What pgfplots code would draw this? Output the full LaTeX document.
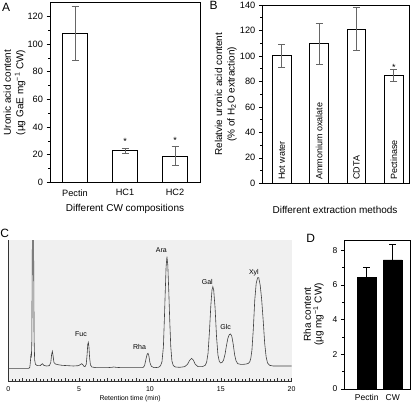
\documentclass[border=0pt]{standalone}
\usepackage{fontspec}
\setmainfont{Liberation Sans}
\usepackage{pgfplots}
\pgfplotsset{compat=1.18}
\begin{document}
\begin{tikzpicture}[x=1pt,y=1pt]
\path[use as bounding box] (0,0) rectangle (414,404);
\pgfplotsset{
  panel/.style={
    scale only axis, anchor=south west,
    /pgf/number format/assume math mode=true,
    axis line style={line width=0.7pt},
    tick style={line width=0.6pt, black},
    tick align=outside, ytick pos=left, xtick pos=bottom,
    major tick length=3.5pt, minor tick length=2pt,
    xtick style={draw=none},
    xticklabel style={anchor=center},
    ylabel style={anchor=center, align=center, font=\fontsize{10}{12.5}\selectfont},
    xlabel style={anchor=center, font=\fontsize{10}{12}\selectfont},
  },
  ebar/.style={error bars/.cd, y dir=both, y explicit,
    error bar style={draw=black!60, line width=0.8pt},
    error mark options={rotate=90, mark size=3.5pt, draw=black!60, line width=0.8pt}},
}
% Panel A
\begin{axis}[panel,
  at={(50pt,221.7pt)}, width=150pt, height=179.6pt,
  xmin=-0.5, xmax=2.5, ymin=0, ymax=130,
  xtick={0,1,2}, xticklabels={Pectin,HC1,HC2},
  ytick={0,20,...,120}, minor y tick num=1,
  tick label style={font=\fontsize{9.2}{10}\selectfont},
  xticklabel style={yshift=-7pt},
  ylabel={Uronic acid content\\(µg GaE mg\textsuperscript{−1} CW)},
  ylabel style={at={(axis description cs:-0.2367,0.5)}},
  xlabel={Different CW compositions},
  xlabel style={at={(axis description cs:0.5,-0.146)}},
]
\addplot[ybar, bar width=0.5, fill=white, draw=black, line width=0.8pt, ebar]
  coordinates {(0,108) +- (0,19.6) (1,22.8) +- (0,1.8) (2,19.1) +- (0,6.6)};
\node[inner sep=0, font=\fontsize{9}{10}\selectfont] at (axis cs:1,29.8) {*};
\node[inner sep=0, font=\fontsize{9}{10}\selectfont] at (axis cs:2,30.5) {*};
\end{axis}
% Panel B
\begin{axis}[panel,
  at={(262.3pt,220.7pt)}, width=147.2pt, height=178.3pt,
  xmin=-0.52, xmax=3.42, ymin=0, ymax=140,
  xtick=\empty,
  ytick={0,20,...,140}, minor y tick num=1,
  tick label style={font=\fontsize{9.2}{10}\selectfont},
  ylabel={Relatvie uronic acid content\\(\% of H\textsubscript{2}O extraction)},
  ylabel style={at={(axis description cs:-0.248,0.5)}},
  xlabel={Different extraction methods},
  xlabel style={at={(axis description cs:0.494,-0.150)}},
]
\addplot[ybar, bar width=0.5, fill=white, draw=black, line width=0.8pt, ebar]
  coordinates {(0,100.2) +- (0,9.2) (1,109.8) +- (0,16.1) (2,121.2) +- (0,16.7) (3,84.5) +- (0,4.7)};
\node[inner sep=0, font=\fontsize{9}{10}\selectfont] at (axis cs:3,91.3) {*};
\foreach \i/\t in {0/Hot water,1/Ammonium oxalate,2/CDTA,3/Pectinase}{
  \edef\tmp{\noexpand\node[rotate=90, anchor=west, inner sep=0, font=\noexpand\fontsize{9}{10}\noexpand\selectfont] at (axis cs:\i,2.6) {\t};}
  \tmp
}
\end{axis}
% Panel C
\begin{axis}[
  scale only axis, anchor=south west,
  at={(8.3pt,23pt)}, width=283.3pt, height=141pt,
  xmin=0, xmax=20, ymin=-38, ymax=385,
  axis x line=bottom, axis y line=left,
  x axis line style={-, line width=0.6pt, black!80},
  y axis line style={-, line width=0.6pt, black!80},
  axis background/.style={fill=black!6},
  ytick=\empty,
  xtick={0,...,20},
  xticklabels={0,,,,,5,,,,,10,,,,,15,,,,,20},
  minor x tick num=3,
  tick align=inside,
  major tick length=3pt, minor tick length=1.8pt,
  tick style={line width=0.5pt, black!80},
  xticklabel style={anchor=center, yshift=-8pt, font=\fontsize{7}{8}\selectfont},
  xlabel={Retention time (min)},
  xlabel style={at={(axis description cs:0.43,-0.123)}, anchor=center, font=\fontsize{6.8}{7}\selectfont},
  clip=true,
]
\addplot[black!75, line width=0.6pt] coordinates {
(0,0) (1.45,0) (1.52,3) (1.56,20) (1.60,43) (1.63,32) (1.66,80) (1.69,300) (1.72,700) (1.76,800) (1.79,350) (1.82,90) (1.86,25) (1.92,12) (2.05,8) (2.25,8) (2.35,12) (2.42,14) (2.5,9) (2.7,7) (2.9,8) (3.0,18) (3.06,42) (3.11,51) (3.16,38) (3.22,18) (3.32,13) (3.5,11) (3.8,9) (4.2,8) (4.6,7) (4.95,8) (5.08,11) (5.18,14) (5.26,11) (5.34,6) (5.42,5) (5.5,12) (5.56,40) (5.61,72) (5.65,78) (5.69,66) (5.74,32) (5.8,10) (5.9,4) (6.2,2) (7.0,2) (7.3,3) (7.45,4) (7.6,3) (8.0,2) (9.0,2) (9.5,2) (9.62,8) (9.72,28) (9.8,42) (9.86,45) (9.92,38) (10.0,17) (10.1,6) (10.3,2) (10.6,3) (10.75,8) (10.85,20) (10.95,65) (11.02,150) (11.08,230) (11.14,305) (11.2,335) (11.26,310) (11.33,230) (11.4,140) (11.47,65) (11.55,22) (11.65,8) (11.8,4) (12.1,3) (12.45,5) (12.65,12) (12.8,24) (12.94,30) (13.06,25) (13.2,12) (13.4,5) (13.7,5) (13.9,9) (14.0,18) (14.1,45) (14.2,110) (14.3,190) (14.38,235) (14.44,245) (14.5,235) (14.6,180) (14.7,95) (14.8,40) (14.9,20) (15.0,16) (15.1,18) (15.2,25) (15.3,42) (15.4,68) (15.5,90) (15.6,101) (15.69,103) (15.78,96) (15.88,72) (15.98,40) (16.08,22) (16.2,14) (16.4,12) (16.6,12) (16.8,13) (16.95,15) (17.05,20) (17.12,30) (17.2,55) (17.3,120) (17.4,205) (17.5,255) (17.6,272) (17.68,272) (17.78,250) (17.88,210) (18.0,140) (18.1,75) (18.2,35) (18.3,16) (18.45,9) (18.7,7) (20,7)
};
\begin{scope}[font=\fontsize{7}{8}\selectfont]
\node at (axis cs:5.13,102) {Fuc};
\node at (axis cs:9.27,63) {Rha};
\node at (axis cs:10.8,355) {Ara};
\node at (axis cs:14.05,260) {Gal};
\node at (axis cs:15.34,125) {Glc};
\node at (axis cs:17.34,288) {Xyl};
\end{scope}
\end{axis}
% Panel D
\begin{axis}[panel,
  at={(344.3pt,15pt)}, width=66.4pt, height=149pt,
  xmin=-0.86, xmax=1.69, ymin=0, ymax=8.6,
  xtick={0,1}, xticklabels={Pectin,CW},
  ytick={0,2,...,8}, minor y tick num=1,
  tick label style={font=\fontsize{8.5}{10}\selectfont},
  xticklabel style={yshift=-5pt},
  ylabel={Rha content\\(µg mg\textsuperscript{−1} CW)},
  ylabel style={at={(axis description cs:-0.461,0.5)}, font=\fontsize{10}{10.8}\selectfont},
]
\addplot[ybar, bar width=0.72, fill=black, draw=black, line width=0.8pt,
  error bars/.cd, y dir=plus, y explicit,
  error bar style={draw=black, line width=0.8pt},
  error mark options={rotate=90, mark size=3.5pt, draw=black, line width=0.8pt}]
  coordinates {(0,6.46) +- (0,0.54) (1,7.45) +- (0,0.9)};
\end{axis}
% Panel letters
\begin{scope}[font=\fontsize{12}{14}\selectfont]
\node at (6.2,396.8) {A};
\node at (213.7,398.5) {B};
\node at (4.7,170.3) {C};
\node at (310.8,165.7) {D};
\end{scope}
\end{tikzpicture}
\end{document}
